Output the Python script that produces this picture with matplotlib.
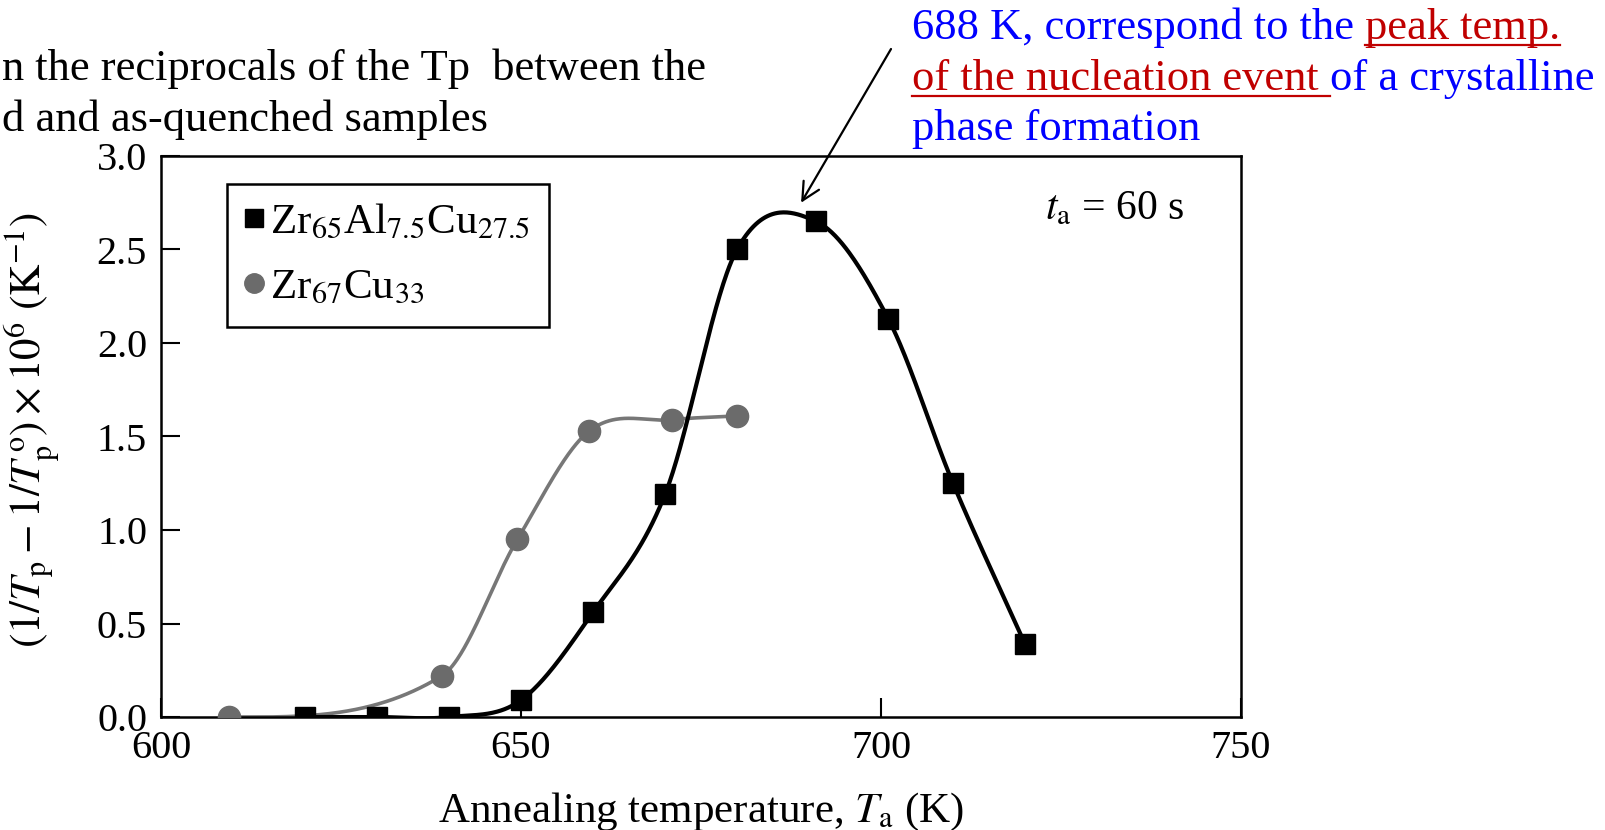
import numpy as np
import matplotlib
matplotlib.use("Agg")
import matplotlib.pyplot as plt
from matplotlib.lines import Line2D

plt.rcParams['font.family'] = ['Liberation Serif', 'DejaVu Serif']
plt.rcParams['mathtext.fontset'] = 'stix'

# ---------------- data ----------------
alloy1_T = [620, 630, 640, 650, 660, 670, 680, 691, 701, 710, 720]
alloy1_val = [0.0, 0.0, 0.0, 0.09, 0.56, 1.19, 2.50, 2.65, 2.13, 1.25, 0.39]
alloy2_T = [609.5, 639, 649.5, 659.5, 671, 680]
alloy2_val = [0.0, 0.22, 0.95, 1.53, 1.59, 1.61]
alloy1_label = r'Zr$_{65}$Al$_{7.5}$Cu$_{27.5}$'
alloy2_label = r'Zr$_{67}$Cu$_{33}$'
x_ticks = [600, 650, 700, 750]
y_ticks = [0.0, 0.5, 1.0, 1.5, 2.0, 2.5, 3.0]
peak_T = 688.9
peak_arrow_y = 2.75


def smooth_curve(x, y, num=600, start_slope=None):
    """Cubic Hermite (Catmull-Rom style) curve through the given points."""
    x = np.asarray(x, float); y = np.asarray(y, float)
    n = len(x); h = np.diff(x)
    m = np.zeros(n)
    for i in range(1, n - 1):
        m[i] = (y[i + 1] - y[i - 1]) / (x[i + 1] - x[i - 1])
    m[0] = (y[1] - y[0]) / h[0] if start_slope is None else start_slope
    m[-1] = (y[-1] - y[-2]) / h[-1]
    xs = np.linspace(x[0], x[-1], num)
    k = np.clip(np.searchsorted(x, xs) - 1, 0, n - 2)
    t = (xs - x[k]) / h[k]
    h00 = 2 * t**3 - 3 * t**2 + 1; h10 = t**3 - 2 * t**2 + t
    h01 = -2 * t**3 + 3 * t**2; h11 = t**3 - t**2
    ys = h00 * y[k] + h10 * h[k] * m[k] + h01 * y[k + 1] + h11 * h[k] * m[k + 1]
    return xs, ys


W, H = 1606, 830
fig = plt.figure(figsize=(W / 100, H / 100), dpi=100)
ax = fig.add_axes([161 / W, 1 - 717 / H, (1241 - 161) / W, (717 - 156) / H])

gray = '#6b6b6b'
xs2, ys2 = smooth_curve(alloy2_T, alloy2_val, start_slope=0.0)
ax.plot(xs2, ys2, color='#777777', lw=2.6, zorder=2)
ax.plot(alloy2_T, alloy2_val, 'o', color=gray, ms=16, mec=gray, zorder=3)

xs1, ys1 = smooth_curve(alloy1_T, alloy1_val)
ax.plot(xs1, ys1, color='black', lw=3.0, zorder=4)
ax.plot(alloy1_T, alloy1_val, 's', color='black', ms=14.5, zorder=5)

ax.set_xlim(600, 750)
ax.set_ylim(0, 3.0)
ax.set_xticks(x_ticks)
ax.set_yticks(y_ticks)
ax.set_yticklabels([f'{v:.1f}' for v in y_ticks])
ax.tick_params(direction='in', length=14, width=1.5, labelsize=29, top=False, right=False)
ax.tick_params(axis='x', pad=9)
ax.tick_params(axis='y', pad=10)
for s in ax.spines.values():
    s.set_linewidth(1.8)

ax.set_xlabel(r'Annealing temperature, $T_{\mathrm{a}}$ (K)', fontsize=31)
ax.set_ylabel(r'$(1/T_{\mathrm{p}} - 1/T_{\mathrm{p}}^{\,\mathrm{o}}) \times 10^{6}\ (\mathrm{K}^{-1})$',
              fontsize=31)
ax.xaxis.set_label_coords(0.5, (717 - 791) / (717 - 156))
ax.yaxis.set_label_coords((62 - 161) / 1080, (717 - 430) / (717 - 156))

handles = [Line2D([], [], marker='s', ls='none', color='black', ms=13),
           Line2D([], [], marker='o', ls='none', color=gray, ms=14)]
leg = ax.legend(handles, [alloy1_label, alloy2_label], loc='upper left',
                bbox_to_anchor=(0.061, 0.950), borderaxespad=0, fontsize=31,
                fancybox=False, framealpha=1, edgecolor='black',
                handlelength=0.35, handletextpad=0.2, labelspacing=0.6,
                borderpad=0.45)
leg.get_frame().set_linewidth(1.8)

ax.text(0.883, 0.905, r'$t_{\mathrm{a}}$ = 60 s', transform=ax.transAxes,
        ha='center', va='center', fontsize=30)

# arrow pointing to the peak
ax.annotate('', xy=(peak_T, peak_arrow_y), xycoords='data',
            xytext=(891, H - 49), textcoords='figure pixels',
            arrowprops=dict(arrowstyle='->', lw=1.6, color='black',
                            mutation_scale=32, shrinkA=0, shrinkB=0))

# --------------- slide text ---------------
renderer = fig.canvas.get_renderer()
FS = 32
FAM = ['Liberation Serif', 'DejaVu Serif']


def text_width(s):
    t = fig.text(0, 0, s, fontsize=FS, family=FAM)
    w = t.get_window_extent(renderer).width
    t.remove()
    return w


space_w = text_width('a a') - text_width('aa')


def put(x, y_top, s, color, underline=False, trailing_space=False):
    t = fig.text(x / W, 1 - y_top / H, s, fontsize=FS, family=FAM, color=color,
                 va='baseline', ha='left')
    bb = t.get_window_extent(renderer)
    x1 = bb.x1 + (space_w if trailing_space else 0)
    if underline:
        yb = (H - y_top) - 6
        fig.add_artist(Line2D([bb.x0, x1], [yb, yb], color=color, lw=1.6,
                              transform=None))
    return x1


put(2, 80, 'n the reciprocals of the Tp  between the', 'black')
put(2, 131, 'd and as-quenched samples', 'black')

blue = '#0000FF'
red = '#C00000'
x = put(912, 39, '688 K, correspond to the', blue)
put(x + space_w, 39, 'peak temp.', red, underline=True)
x = put(912, 90, 'of the nucleation event', red, underline=True, trailing_space=True)
put(x, 90, 'of a crystalline', blue)
put(912, 140, 'phase formation', blue)

fig.savefig('out.png', dpi=100)
